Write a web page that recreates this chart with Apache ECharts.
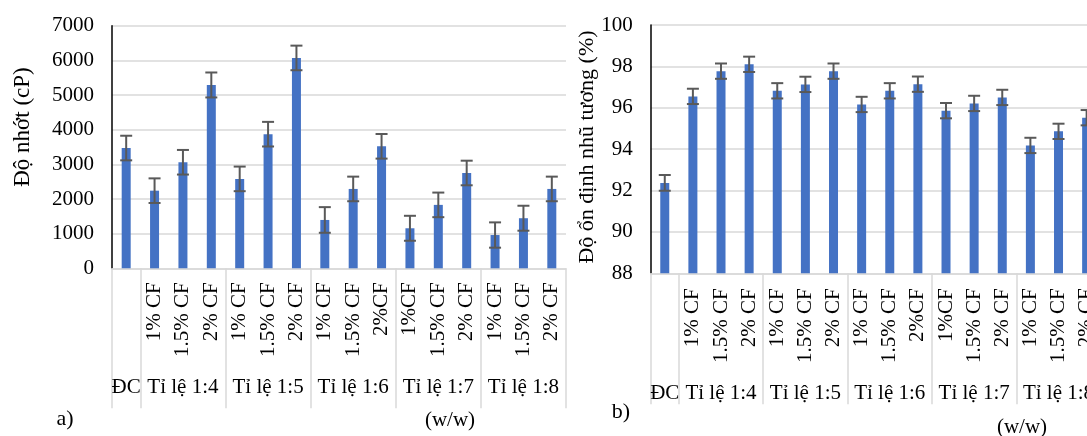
<!DOCTYPE html>
<html>
<head>
<meta charset="utf-8">
<script src="https://cdn.jsdelivr.net/npm/echarts@6/dist/echarts.min.js"></script>
<style>
  html, body { margin: 0; padding: 0; background: #fff; }
  #chart { width: 1087px; height: 436px; }
</style>
</head>
<body>
<div id="chart"></div>
<script>
// sub categories (rotated) and group labels for the two-level axis
const subLabels = ['', '1% CF', '1.5% CF', '2% CF', '1% CF', '1.5% CF', '2% CF', '1% CF', '1.5% CF', '2%CF', '1%CF', '1.5% CF', '2% CF', '1% CF', '1.5% CF', '2% CF'];
const groupLabels = ['ĐC', '', 'Tỉ lệ 1:4', '', '', 'Tỉ lệ 1:5', '', '', 'Tỉ lệ 1:6', '', '', 'Tỉ lệ 1:7', '', '', 'Tỉ lệ 1:8', ''];
const groupStarts = [0, 1, 4, 7, 10, 13];

// a) viscosity (cP)
const viscosity = [3470, 2240, 3060, 5290, 2580, 3870, 6070, 1395, 2290, 3520, 1155, 1830, 2750, 960, 1445, 2290];
const viscosityErr = [355, 355, 355, 360, 355, 355, 355, 370, 355, 355, 360, 355, 355, 365, 360, 355];
const viscTicks = { min: 0, max: 7000, interval: 1000 };

// b) emulsion stability (%)
const stability = [92.37, 96.55, 97.77, 98.1, 96.82, 97.13, 97.77, 96.16, 96.82, 97.14, 95.86, 96.21, 96.5, 94.18, 94.86, 95.52];
const stabilityErr = [0.38, 0.37, 0.37, 0.37, 0.37, 0.37, 0.37, 0.37, 0.37, 0.37, 0.37, 0.37, 0.37, 0.37, 0.37, 0.37];
const stabTicks = { min: 88, max: 100, interval: 2 };

const FONT = "'Liberation Serif', 'Times New Roman', serif";
const BAR = '#4472C4';
const GRIDLINE = '#d9d9d9';
const ERR = '#595959';

function subAxis(gridIndex, margin) {
  return {
    type: 'category',
    gridIndex,
    position: 'bottom',
    data: subLabels,
    axisLine: { show: false },
    axisTick: { show: false },
    axisLabel: {
      interval: 0,
      rotate: 90,
      margin,
      color: '#000',
      fontFamily: FONT,
      fontSize: 21,
    },
  };
}

function groupAxis(gridIndex, margin, tickLen) {
  return {
    type: 'category',
    gridIndex,
    position: 'bottom',
    data: groupLabels,
    axisLine: { show: true, lineStyle: { color: GRIDLINE, width: 1.5 } },
    axisTick: {
      show: true,
      length: tickLen,
      interval: idx => groupStarts.indexOf(idx) >= 0,
      lineStyle: { color: GRIDLINE, width: 1.5 },
    },
    axisLabel: {
      interval: 0,
      margin,
      color: '#000',
      fontFamily: FONT,
      fontSize: 21,
    },
  };
}

function valueAxis(gridIndex, ticks) {
  return {
    type: 'value',
    gridIndex,
    min: ticks.min,
    max: ticks.max,
    interval: ticks.interval,
    axisLine: { show: true, lineStyle: { color: '#000', width: 1.5 } },
    axisTick: { show: false },
    splitLine: { lineStyle: { color: GRIDLINE, width: 1.5 } },
    axisLabel: {
      margin: 18,
      color: '#000',
      fontFamily: FONT,
      fontSize: 21,
      formatter: v => String(v),
    },
  };
}

function errorSeries(axisIndex, values, errs) {
  return {
    type: 'custom',
    xAxisIndex: axisIndex,
    yAxisIndex: axisIndex === 0 ? 0 : 1,
    z: 5,
    data: values.map((v, i) => [i, v, errs[i]]),
    renderItem(params, api) {
      const i = api.value(0);
      const v = api.value(1);
      const e = api.value(2);
      const hi = api.coord([i, v + e]);
      const lo = api.coord([i, v - e]);
      const cap = 6;
      const style = { stroke: ERR, lineWidth: 2 };
      return {
        type: 'group',
        children: [
          { type: 'line', shape: { x1: hi[0], y1: hi[1], x2: lo[0], y2: lo[1] }, style },
          { type: 'line', shape: { x1: hi[0] - cap, y1: hi[1], x2: hi[0] + cap, y2: hi[1] }, style },
          { type: 'line', shape: { x1: lo[0] - cap, y1: lo[1], x2: lo[0] + cap, y2: lo[1] }, style },
        ],
      };
    },
  };
}

function caption(x, y, text, size, rotation) {
  return {
    type: 'text',
    x,
    y,
    rotation: rotation || 0,
    style: {
      text,
      fill: '#000',
      font: size + 'px ' + FONT,
      align: 'center',
      verticalAlign: 'middle',
    },
  };
}

const chart = echarts.init(document.getElementById('chart'), null, { renderer: 'canvas' });

chart.setOption({
  backgroundColor: '#fff',
  animation: false,
  grid: [
    { left: 112, top: 25.7, width: 454, height: 242.6, outerBoundsMode: 'none' },
    { left: 650.7, top: 25, width: 450, height: 248.3, outerBoundsMode: 'none' },
  ],
  xAxis: [
    subAxis(0, 14),
    groupAxis(0, 109, 140),
    subAxis(1, 15),
    groupAxis(1, 110, 131),
  ],
  yAxis: [valueAxis(0, viscTicks), valueAxis(1, stabTicks)],
  series: [
    {
      type: 'bar',
      xAxisIndex: 0,
      yAxisIndex: 0,
      barWidth: 9,
      itemStyle: { color: BAR },
      data: viscosity,
    },
    errorSeries(0, viscosity, viscosityErr),
    {
      type: 'bar',
      xAxisIndex: 2,
      yAxisIndex: 1,
      barWidth: 9,
      itemStyle: { color: BAR },
      data: stability,
    },
    errorSeries(2, stability, stabilityErr),
  ],
  graphic: [
    caption(23, 127, 'Độ nhớt (cP)', 23, Math.PI / 2),
    caption(587, 147, 'Độ ổn định nhũ tương (%)', 22, Math.PI / 2),
    caption(65, 419, 'a)', 22),
    caption(450, 420, '(w/w)', 21),
    caption(621, 412, 'b)', 22),
    caption(1022, 427, '(w/w)', 21),
  ],
});
</script>
</body>
</html>
